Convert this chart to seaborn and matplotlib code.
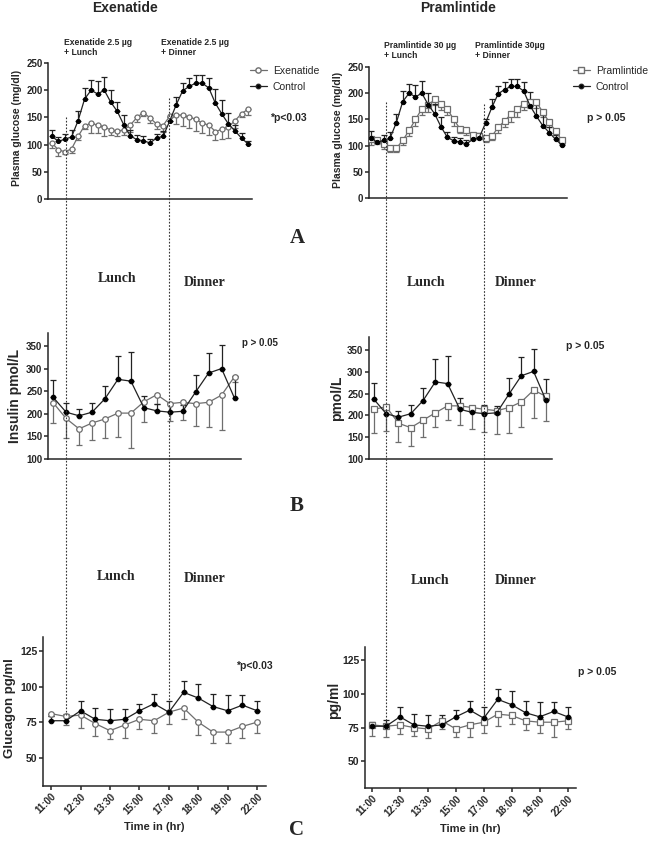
import numpy as np
import pandas as pd
import matplotlib
matplotlib.use("Agg")
import matplotlib.pyplot as plt
from matplotlib.lines import Line2D
import seaborn as sns

# ---- data ----
glu_ctrl = [115, 106, 110, 114, 144, 184, 200, 193, 200, 178, 161, 136, 116, 109, 107, 103,
            112, 115, 143, 173, 199, 207, 213, 213, 204, 176, 156, 138, 125, 112, 101]
glu_ctrl_err = [12, 8, 10, 12, 17, 20, 18, 23, 24, 23, 18, 19, 10, 8, 8, 8,
                8, 10, 8, 15, 14, 15, 15, 15, 18, 26, 26, 20, 11, 9, 5]
glu_exe = [103, 90, 87, 92, 115, 135, 139, 136, 132, 127, 125, 127, 136, 150, 159, 149,
           138, 135, 152, 155, 154, 150, 147, 139, 136, 124, 128, 133, 144, 157, 165]
glu_exe_err = [10, 11, 5, 7, 6, 7, 18, 15, 17, 10, 10, 10, 12, 8, 7, 9,
               10, 11, 9, 18, 20, 20, 22, 18, 18, 15, 17, 20, 14, 6, 10]
glu_pram = [113, 111, 104, 96, 95, 110, 129, 150, 170, 177, 188, 180, 170, 150, 132, 129,
            121, 118, 115, 118, 135, 147, 160, 170, 180, 183, 183, 164, 145, 128, 110]
glu_pram_err = [12, 8, 10, 8, 8, 8, 10, 12, 12, 12, 10, 12, 12, 12, 8, 8,
                8, 6, 8, 8, 10, 12, 15, 15, 12, 12, 12, 10, 10, 8, 6]

ins_ctrl = [237, 204, 196, 204, 234, 277, 273, 214, 207, 204, 206, 249, 291, 301, 235]
ins_ctrl_err = [38, 20, 15, 20, 29, 52, 64, 25, 15, 20, 15, 37, 44, 52, 49]
ins_exe = [225, 190, 167, 180, 189, 202, 202, 227, 243, 223, 226, 223, 226, 242, 283]
ins_exe_err = [45, 44, 37, 37, 43, 53, 78, 45, 20, 39, 39, 49, 55, 77, 11]
ins_pram = [214, 220, 182, 172, 189, 206, 222, 222, 218, 214, 211, 218, 231, 258, 244]
ins_pram_err = [54, 55, 42, 42, 38, 33, 32, 44, 50, 51, 54, 58, 58, 65, 56]

gcg_ctrl = [76, 76, 83, 77, 76, 77, 83, 88, 82, 96, 92, 86, 83, 87, 83]
gcg_ctrl_err = [3, 5, 7, 8, 8, 7, 5, 7, 8, 8, 10, 9, 11, 7, 7]
gcg_exe = [81, 79, 80, 74, 69, 73, 77, 76, 82, 85, 75, 68, 68, 72, 75]
gcg_exe_err = [2, 6, 9, 9, 6, 9, 7, 9, 8, 8, 9, 8, 8, 8, 8]
gcg_pram = [77, 76, 77, 75, 74, 80, 74, 77, 79, 85, 84, 80, 79, 79, 80]
gcg_pram_err = [8, 8, 7, 6, 7, 6, 6, 9, 8, 9, 6, 7, 8, 11, 6]

time_labels = ["11:00", "12:30", "13:30", "15:00", "17:00", "18:00", "19:00", "22:00"]

W, H = 655, 852
sns.set_style("ticks")
plt.rcParams["font.family"] = ["Liberation Sans", "DejaVu Sans"]
plt.rcParams["axes.linewidth"] = 1.1

fig = plt.figure(figsize=(W / 100, H / 100), dpi=100)


def add_ax(l, t, r, b):
    return fig.add_axes([l / W, 1 - b / H, (r - l) / W, (b - t) / H])


def ftext(x, y, s, **kw):
    fig.text(x / W, 1 - y / H, s, **kw)


def draw(ax, ctrl, ctrl_err, drug, drug_err, marker, label, ms=4):
    n = len(ctrl)
    x = np.arange(n)
    df = pd.DataFrame({"t": np.concatenate([x, x]),
                       "val": np.concatenate([drug, ctrl]),
                       "grp": [label] * n + ["Control"] * n})
    z = np.zeros(n)
    ax.errorbar(x, drug, yerr=[drug_err, z], fmt="none", ecolor="#6e6e6e",
                elinewidth=0.9, capsize=2, capthick=0.9, zorder=2)
    ax.errorbar(x, ctrl, yerr=[z, ctrl_err], fmt="none", ecolor="#222222",
                elinewidth=0.9, capsize=2, capthick=0.9, zorder=2)
    sns.lineplot(data=df[df.grp == label], x="t", y="val", ax=ax, color="#6e6e6e",
                 lw=0.9, marker=marker, markersize=ms, markerfacecolor="white",
                 markeredgecolor="#6e6e6e", markeredgewidth=0.9, zorder=3, legend=False)
    sns.lineplot(data=df[df.grp == "Control"], x="t", y="val", ax=ax, color="#222222",
                 lw=0.9, marker="o", markersize=ms - 0.7, markerfacecolor="black",
                 markeredgecolor="black", zorder=4, legend=False)
    ax.set_xlabel("")
    ax.set_ylabel("")
    sns.despine(ax=ax)
    ax.tick_params(axis="y", labelsize=7, width=1.1, length=3, pad=1)
    for t in ax.get_yticklabels():
        t.set_fontweight("bold")


# ---- panel A: plasma glucose ----
axA1 = add_ax(48, 63, 252, 199)
draw(axA1, glu_ctrl, glu_ctrl_err, glu_exe, glu_exe_err, "o", "Exenatide", ms=3.6)
axA2 = add_ax(369, 67, 567, 198)
draw(axA2, glu_ctrl, glu_ctrl_err, glu_pram, glu_pram_err, "s", "Pramlintide", ms=3.8)
axA1.set_xlim(-0.6, 30.6)
axA2.set_xlim(-0.3, 30.8)
for ax in (axA1, axA2):
    ax.set_ylim(0, 250)
    ax.set_yticks([0, 50, 100, 150, 200, 250])
    ax.set_xticks([])

# ---- panel B: insulin ----
axB1 = add_ax(48, 333, 241, 459)
draw(axB1, ins_ctrl, ins_ctrl_err, ins_exe, ins_exe_err, "o", "Exenatide")
axB2 = add_ax(369, 337, 552, 459)
draw(axB2, ins_ctrl, ins_ctrl_err, ins_pram, ins_pram_err, "s", "Pramlintide")
for ax in (axB1, axB2):
    ax.set_ylim(100, 380)
    ax.set_yticks([100, 150, 200, 250, 300, 350])
    ax.set_xticks([])
    ax.set_xlim(-0.4, 14.5)

# ---- panel C: glucagon ----
axC1 = add_ax(43, 637, 266, 786)
draw(axC1, gcg_ctrl, gcg_ctrl_err, gcg_exe, gcg_exe_err, "o", "Exenatide")
axC2 = add_ax(365, 647, 576, 788)
draw(axC2, gcg_ctrl, gcg_ctrl_err, gcg_pram, gcg_pram_err, "s", "Pramlintide")
axC1.set_xlim(-0.55, 14.6)
axC2.set_xlim(-0.5, 14.6)
for ax in (axC1, axC2):
    ax.set_ylim(30, 135)
    ax.set_yticks([50, 75, 100, 125])
    ax.set_xticks(np.arange(0, 15, 2))
    ax.set_xticklabels(time_labels, rotation=45, ha="right", rotation_mode="anchor",
                       fontsize=7, fontweight="bold")
    ax.tick_params(axis="x", width=1.1, length=3, pad=1)
    ax.tick_params(axis="y", labelsize=7.5)
    ax.set_xlabel("Time in (hr)", fontsize=8, fontweight="bold", labelpad=4)

# ---- y labels ----
ftext(17, 128, "Plasma glucose (mg/dl)", rotation=90, ha="center", va="center",
      fontsize=7.5, fontweight="bold")
ftext(338, 130, "Plasma glucose (mg/dl)", rotation=90, ha="center", va="center",
      fontsize=7.5, fontweight="bold")
ftext(15, 396, "Insulin pmol/L", rotation=90, ha="center", va="center",
      fontsize=10, fontweight="bold")
ftext(337, 398, "pmol/L", rotation=90, ha="center", va="center",
      fontsize=10, fontweight="bold")
ftext(10, 708, "Glucagon pg/ml", rotation=90, ha="center", va="center",
      fontsize=9.5, fontweight="bold")
ftext(334, 700, "pg/ml", rotation=90, ha="center", va="center",
      fontsize=10, fontweight="bold")

# ---- titles and annotations ----
ftext(125, 8, "Exenatide", ha="center", va="center", fontsize=10, fontweight="bold")
ftext(458, 8, "Pramlintide", ha="center", va="center", fontsize=10, fontweight="bold")
ftext(64, 38, "Exenatide 2.5 µg\n+ Lunch", ha="left", va="top", fontsize=6.2,
      fontweight="bold", linespacing=1.1)
ftext(161, 38, "Exenatide 2.5 µg\n+ Dinner", ha="left", va="top", fontsize=6.2,
      fontweight="bold", linespacing=1.1)
ftext(384, 41, "Pramlintide 30 µg\n+ Lunch", ha="left", va="top", fontsize=6.2,
      fontweight="bold", linespacing=1.1)
ftext(475, 41, "Pramlintide 30µg\n+ Dinner", ha="left", va="top", fontsize=6.2,
      fontweight="bold", linespacing=1.1)

ftext(270, 118, "*p<0.03", ha="left", va="center", fontsize=7.5, fontweight="bold")
ftext(587, 118, "p > 0.05", ha="left", va="center", fontsize=7.5, fontweight="bold")
ftext(242, 343, "p > 0.05", ha="left", va="center", fontsize=7, fontweight="bold")
ftext(566, 346, "p > 0.05", ha="left", va="center", fontsize=7.5, fontweight="bold")
ftext(236, 666, "*p<0.03", ha="left", va="center", fontsize=7.5, fontweight="bold")
ftext(578, 672, "p > 0.05", ha="left", va="center", fontsize=7.5, fontweight="bold")

serif = ["Liberation Serif", "DejaVu Serif"]
for x, y, s in [(117, 279, "Lunch"), (205, 282, "Dinner"), (426, 282, "Lunch"),
                (516, 283, "Dinner"), (116, 577, "Lunch"), (205, 578, "Dinner"),
                (430, 580, "Lunch"), (516, 581, "Dinner")]:
    ftext(x, y, s, ha="center", va="center", fontsize=10, fontweight="bold", family=serif)
for y, s in [(238, "A"), (506, "B"), (830, "C")]:
    ftext(297, y, s, ha="center", va="center", fontsize=15, fontweight="bold", family=serif)

# ---- legends ----
for ax, lab, mk, ypos, xpos in [(axA1, "Exenatide", "o", 66, 250), (axA2, "Pramlintide", "s", 66, 573)]:
    handles = [Line2D([], [], color="#6e6e6e", lw=0.9, marker=mk, markersize=3.8,
                      markerfacecolor="white", markeredgecolor="#6e6e6e"),
               Line2D([], [], color="#222222", lw=0.9, marker="o", markersize=3.2,
                      markerfacecolor="black")]
    ax.legend(handles, [lab, "Control"], loc="upper left",
              bbox_to_anchor=(xpos / W, 1 - ypos / H), bbox_transform=fig.transFigure,
              frameon=False, fontsize=7.5, handlelength=1.6, handletextpad=0.6,
              labelspacing=0.55, borderaxespad=0, borderpad=0)

# ---- meal dashed lines spanning panels ----
for x, y0, y1 in [(66, 117, 715), (169, 98, 705), (386, 102, 723), (484, 104, 717)]:
    fig.add_artist(Line2D([x / W, x / W], [1 - y0 / H, 1 - y1 / H], transform=fig.transFigure,
                          color="#333333", lw=0.8, ls=(0, (1.5, 1.5)), zorder=1))

fig.savefig("out.png", dpi=100, facecolor="white")
